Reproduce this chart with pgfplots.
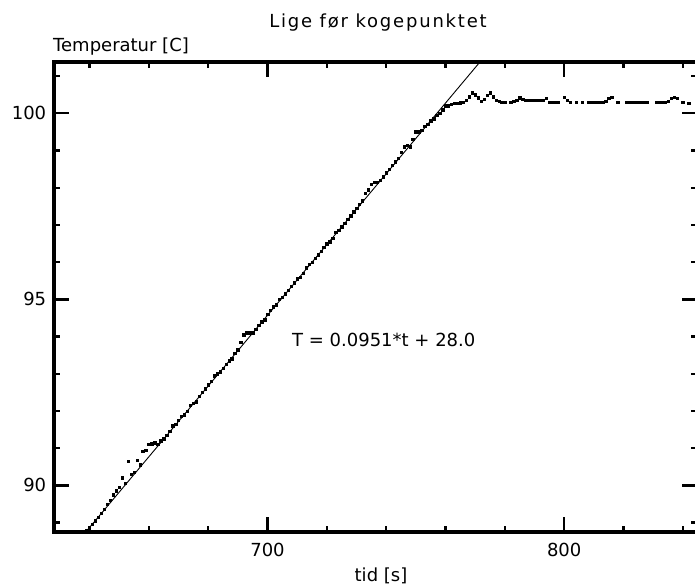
\documentclass[border=0pt]{standalone}
\usepackage{fontspec}
\setmainfont{DejaVu Sans}
\newfontfamily\titlefont[LetterSpace=10]{DejaVu Sans}
\usepackage{pgfplots}
\pgfplotsset{compat=1.18}
\begin{document}
\begin{tikzpicture}
\path[use as bounding box] (0,0) rectangle (695pt,-588pt);
\begin{axis}[
  at={(53.7pt,-532pt)}, anchor=south west,
  width=643.3pt, height=470pt, scale only axis,
  xmin=627.94, xmax=844.76, ymin=88.745, ymax=101.379,
  xtick={700,800}, minor xtick={640,660,680,720,740,760,780,820,840},
  ytick={90,95,100}, minor ytick={89,91,92,93,94,96,97,98,99,101},
  major tick length=15pt, minor tick length=6pt,
  tick style={line width=2.4pt, black},
  separate axis lines,
  every outer x axis line/.append style={line width=4pt, line cap=rect},
  every outer y axis line/.append style={line width=4pt, line cap=rect},
  tick label style={font=\fontsize{18}{21}\selectfont},
  /pgf/number format/assume math mode=true,
  xticklabel style={yshift=-8pt},
  yticklabel style={xshift=-4pt},
]
\addplot[black, line width=0.9pt] coordinates {(630,87.913) (780,102.178)};
\addplot[only marks, mark=square*, mark size=1.2pt, black] coordinates {
(638,88.75) (639,88.80) (640,88.85) (641,88.95) (642,89.05) (643,89.15) (644,89.25) (645,89.35) (646,89.50) (647,89.60)
(648,89.75) (649,89.85) (650,89.95) (651,90.20) (652,90.05) (653,90.65) (654,90.30) (655,90.35) (656,90.67) (657,90.55)
(658,90.92) (659,90.95) (660,91.10) (661,91.12) (662,91.15) (663,91.10) (664,91.20) (665,91.25) (666,91.35) (667,91.45)
(668,91.60) (669,91.65) (670,91.75) (671,91.85) (672,91.90) (673,92.00) (674,92.15) (675,92.20) (676,92.25) (677,92.40)
(678,92.50) (679,92.60) (680,92.70) (681,92.80) (682,92.95) (683,93.00) (684,93.05) (685,93.15) (686,93.25) (687,93.35)
(688,93.40) (689,93.55) (690,93.65) (691,93.85) (692,94.05) (693,94.10) (694,94.10) (695,94.10) (696,94.20) (697,94.30)
(698,94.40) (699,94.45) (700,94.60) (701,94.70) (702,94.80) (703,94.85) (704,95.00) (705,95.05) (706,95.15) (707,95.25)
(708,95.35) (709,95.45) (710,95.55) (711,95.60) (712,95.70) (713,95.85) (714,95.95) (715,96.00) (716,96.10) (717,96.20)
(718,96.30) (719,96.40) (720,96.50) (721,96.55) (722,96.65) (723,96.80) (724,96.85) (725,96.95) (726,97.05) (727,97.15)
(728,97.25) (729,97.35) (730,97.45) (731,97.55) (732,97.65) (733,97.85) (734,97.95) (735,98.10) (736,98.15) (737,98.15)
(738,98.20) (739,98.30) (740,98.40) (741,98.50) (742,98.60) (743,98.70) (744,98.80) (745,98.95) (746,99.10) (747,99.15)
(748,99.10) (749,99.30) (750,99.50) (751,99.50) (752,99.55) (753,99.65) (754,99.70) (755,99.80) (756,99.85) (757,99.95)
(758,100.00) (759,100.10) (760,100.20) (761,100.20) (762,100.25) (763,100.27) (764,100.27) (765,100.28) (766,100.30) (767,100.35)
(768,100.45) (769,100.55) (770,100.50) (771,100.42) (772,100.33) (773,100.38) (774,100.48) (775,100.55) (776,100.45) (777,100.35)
(778,100.32) (779,100.30) (780,100.30) (782,100.30) (783,100.33) (784,100.35) (785,100.42) (786,100.38) (787,100.36) (788,100.36)
(789,100.36) (790,100.36) (791,100.36) (792,100.36) (793,100.36) (794,100.40) (795,100.30) (796,100.30) (797,100.30) (798,100.30)
(800,100.43) (801,100.35) (802,100.30) (804,100.30) (806,100.30) (808,100.30) (809,100.30) (810,100.30) (811,100.30) (812,100.30)
(813,100.30) (814,100.32) (815,100.40) (816,100.43) (818,100.30) (821,100.30) (822,100.30) (823,100.30) (824,100.30) (825,100.30)
(826,100.30) (827,100.30) (828,100.30) (831,100.30) (832,100.30) (833,100.30) (834,100.30) (835,100.32) (836,100.40) (837,100.43)
(838,100.40) (840,100.30) (842,100.27)
};
\node[anchor=base west, inner sep=0, font=\fontsize{18}{21}\selectfont] at (axis cs:708.26,93.72) {T = 0.0951*t + 28.0};
\end{axis}
\node[anchor=base, inner sep=0, font=\titlefont\fontsize{18}{21}\selectfont] at (378pt,-28pt) {Lige før kogepunktet};
\node[anchor=base west, inner sep=0, font=\fontsize{18}{21}\selectfont] at (53pt,-52pt) {Temperatur [C]};
\node[anchor=base, inner sep=0, font=\fontsize{18}{21}\selectfont] at (381pt,-581pt) {tid [s]};
\end{tikzpicture}
\end{document}
